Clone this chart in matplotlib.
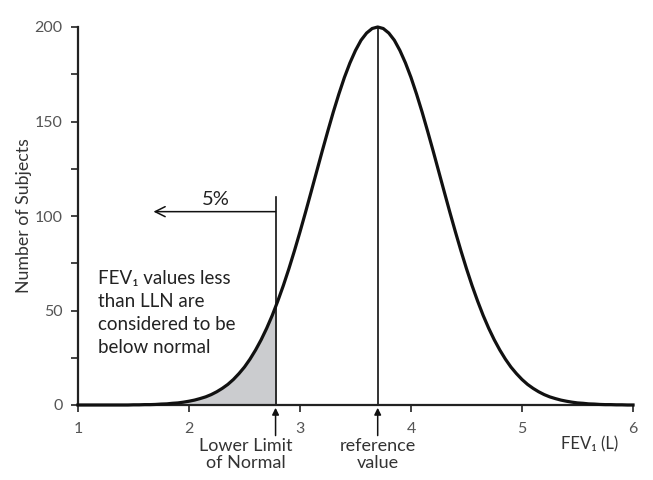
import numpy as np
import matplotlib.pyplot as plt
from matplotlib.patches import Rectangle

plt.rcParams['font.family'] = ['Lato', 'DejaVu Sans']

# FEV1 (L) grid and number of subjects
fev1 = np.round(np.arange(1.0, 6.001, 0.05), 2)
subjects = [0.0, 0.0, 0.0, 0.0, 0.0, 0.0, 0.0, 0.0, 0.0, 0.0,
            0.1, 0.1, 0.2, 0.2, 0.3, 0.5, 0.6, 0.9, 1.1, 1.5,
            2.0, 2.6, 3.4, 4.3, 5.5, 7.0, 8.8, 10.9, 13.5, 16.6,
            20.1, 24.3, 29.1, 34.5, 40.6, 47.4, 55.0, 63.2, 72.1, 81.6,
            91.6, 102.0, 112.7, 123.5, 134.3, 144.8, 155.0, 164.5, 173.3, 181.0,
            187.6, 193.0, 196.8, 199.2, 200.0, 199.2, 196.8, 193.0, 187.6, 181.0,
            173.3, 164.5, 155.0, 144.8, 134.3, 123.5, 112.7, 102.0, 91.6, 81.6,
            72.1, 63.2, 55.0, 47.4, 40.6, 34.5, 29.1, 24.3, 20.1, 16.6,
            13.5, 10.9, 8.8, 7.0, 5.5, 4.3, 3.4, 2.6, 2.0, 1.5,
            1.1, 0.9, 0.6, 0.5, 0.3, 0.2, 0.2, 0.1, 0.1, 0.0,
            0.0]

lln = 2.78          # lower limit of normal
ref_value = 3.7     # reference value (peak)
peak = 200
lln_line_top = 110
arrow_y = 102.3
arrow_end = 1.68

fig = plt.figure(figsize=(6.53, 4.8), dpi=100)
ax = fig.add_axes([0.1194, 0.15625, 0.85, 0.7875])

# shaded tail below LLN
fill = ax.fill_between(fev1, 0, subjects, color='#cbcccf', linewidth=0, zorder=1)
clip = Rectangle((1, 0), lln - 1, 300, transform=ax.transData)
fill.set_clip_path(clip)

ax.plot(fev1, subjects, color='#111111', lw=2.3, solid_joinstyle='round',
        zorder=3, clip_on=False)

# vertical lines
ax.plot([lln, lln], [0, lln_line_top], color='#111111', lw=1.2, zorder=2)
ax.plot([ref_value, ref_value], [0, peak], color='#111111', lw=1.2, zorder=2,
        clip_on=False)

# 5% arrow
ax.annotate('', xy=(arrow_end, arrow_y), xytext=(lln, arrow_y),
            arrowprops=dict(arrowstyle='->', color='#111111', lw=1.1,
                            mutation_scale=18, shrinkA=0, shrinkB=0))
ax.text(2.24, 105.8, '5%', fontsize=14.5, ha='center', va='baseline', color='#222222')

ax.text(1.18, 71.5, 'FEV₁ values less\nthan LLN are\nconsidered to be\nbelow normal',
        fontsize=13.5, ha='left', va='top', color='#222222', linespacing=1.43)

# arrows and labels under the axis
for xv in [lln, ref_value]:
    ax.annotate('', xy=(xv, 0), xycoords=('data', 'axes fraction'),
                xytext=(xv, -22), textcoords=('data', 'offset points'),
                arrowprops=dict(arrowstyle='-|>', color='#111111', lw=1.1,
                                mutation_scale=10, shrinkA=0, shrinkB=2))

ax.text(2.51, -0.087, 'Lower Limit\nof Normal', transform=ax.get_xaxis_transform(),
        fontsize=13, ha='center', va='top', color='#333333', linespacing=1.05)
ax.text(ref_value, -0.087, 'reference\nvalue', transform=ax.get_xaxis_transform(),
        fontsize=13, ha='center', va='top', color='#333333', linespacing=1.05)
ax.text(5.61, -0.082, 'FEV₁ (L)', transform=ax.get_xaxis_transform(),
        fontsize=12, ha='center', va='top', color='#333333')

ax.set_xlim(1, 6)
ax.set_ylim(0, 200)
ax.set_xticks([1, 2, 3, 4, 5, 6])
ax.set_yticks([0, 50, 100, 150, 200])
ax.set_yticks([25, 75, 125, 175], minor=True)
ax.spines['top'].set_visible(False)
ax.spines['right'].set_visible(False)
for s in ['left', 'bottom']:
    ax.spines[s].set_linewidth(1.6)
    ax.spines[s].set_color('#222222')
ax.tick_params(axis='both', which='both', length=5, width=1.2, color='#222222',
               labelsize=11.5, labelcolor='#555555')
ax.tick_params(axis='x', pad=7)
ax.tick_params(axis='y', pad=6)
ax.set_ylabel('Number of Subjects', fontsize=12.8, color='#333333', labelpad=2)

fig.savefig('out.png', dpi=100)
